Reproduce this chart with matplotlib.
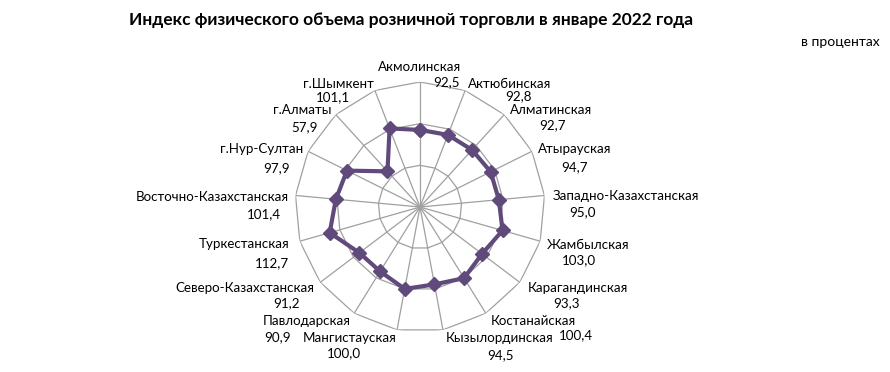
import numpy as np
import matplotlib
matplotlib.use("Agg")
import matplotlib.pyplot as plt

# ---- data ----
categories = ["Акмолинская", "Актюбинская", "Алматинская", "Атырауская",
              "Западно-Казахстанская", "Жамбылская", "Карагандинская",
              "Костанайская", "Кызылординская", "Мангистауская", "Павлодарская",
              "Северо-Казахстанская", "Туркестанская", "Восточно-Казахстанская",
              "г.Нур-Султан", "г.Алматы", "г.Шымкент"]
values = [92.5, 92.8, 92.7, 94.7, 95.0, 103.0, 93.3, 100.4, 94.5, 100.0,
          90.9, 91.2, 112.7, 101.4, 97.9, 57.9, 101.1]
ring_values = [50, 100, 150]
title = "Индекс физического объема розничной торговли в январе 2022 года"
unit = "в процентах"

# ---- layout (pixel positions of text in the 890x372 figure) ----
W, H = 890, 372
name_pos = [(420, 67), (510, 84), (551, 110), (575, 149), (626, 196), (588, 245),
            (578, 288), (533, 321), (500, 338), (350, 338), (307, 321), (245, 288),
            (244, 244), (212, 197), (262, 149), (302, 110), (338, 84)]
value_pos = [(446, 82), (518, 96), (552, 125), (575, 167), (583, 212), (579, 260),
             (567, 303), (576, 335), (500, 355), (344, 353), (278, 337), (287, 303),
             (272, 263), (264, 214), (277, 168), (305, 127), (333, 97)]

FONT = ["Lato", "DejaVu Sans"]
plt.rcParams["font.family"] = FONT

fig = plt.figure(figsize=(W / 100, H / 100), dpi=100)
cx, cy, R = 420, 207, 125
ax = fig.add_axes([(cx - R) / W, (H - cy - R) / H, 2 * R / W, 2 * R / H], projection="polar")
ax.set_theta_zero_location("N")
ax.set_theta_direction(-1)
ax.set_ylim(0, 150)
ax.grid(False)
ax.set_xticks([])
ax.set_yticks([])
ax.spines["polar"].set_visible(False)
ax.patch.set_alpha(0)

n = len(categories)
theta = np.arange(n) * 2 * np.pi / n
theta_c = np.append(theta, theta[0])

grid_color = "#A0A0A0"
for rv in ring_values:
    ax.plot(theta_c, [rv] * (n + 1), color=grid_color, lw=0.9, zorder=1)
for t in theta:
    ax.plot([t, t], [0, ring_values[-1]], color=grid_color, lw=0.9, zorder=1)

vals_c = values + [values[0]]
ax.plot(theta_c, vals_c, color="#604A7B", lw=3, marker="D", markersize=7,
        zorder=3, clip_on=False)

def fx(x):
    return x / W

def fy(y):
    return 1 - y / H

fs = 9.6
for name, v, (nx, ny), (vx, vy) in zip(categories, values, name_pos, value_pos):
    fig.text(fx(nx), fy(ny), name, ha="center", va="center", fontsize=fs, color="black")
    fig.text(fx(vx), fy(vy), f"{v:.1f}".replace(".", ","), ha="center", va="center",
             fontsize=fs, color="black")

fig.text(fx(411), fy(20), title, ha="center", va="center", fontsize=12.5,
         fontweight="bold", color="black")
fig.text(fx(880), fy(42), unit, ha="right", va="center", fontsize=10, color="black")

fig.savefig("out.png", dpi=100)
